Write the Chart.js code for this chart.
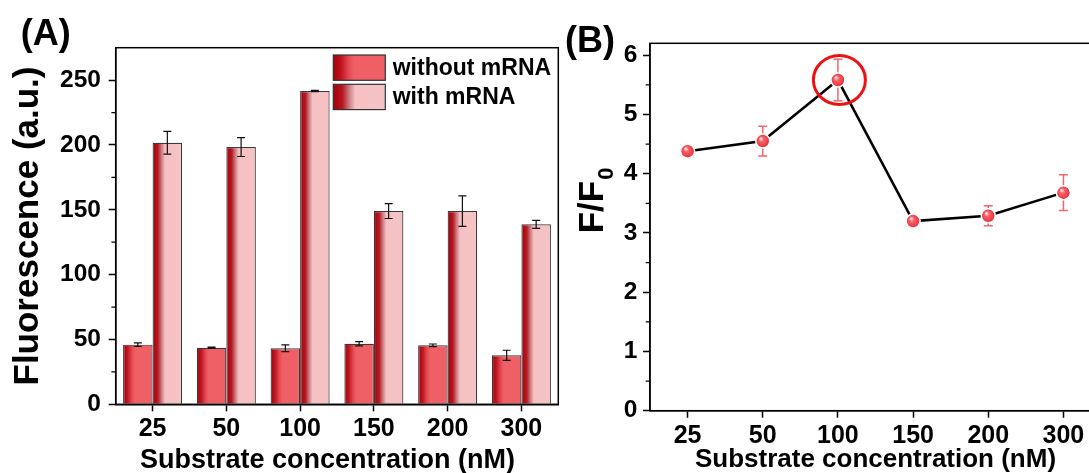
<!DOCTYPE html>
<html>
<head>
<meta charset="utf-8">
<title>Fluorescence vs substrate concentration</title>
<script src="https://cdn.jsdelivr.net/npm/chart.js@4.4.1/dist/chart.umd.min.js"></script>
<style>
    html, body { margin: 0; padding: 0; background: #fff; overflow: hidden; }
    body { width: 1089px; height: 473px; position: relative; }
    #bar_chart_container { position: absolute; left: 0; top: 0; }
    #line_chart_container { position: absolute; left: 560px; top: 0; }
</style>
</head>
<body>
<div id="bar_chart_container"><canvas id="bar-chart" width="570" height="473"></canvas></div>
<div id="line_chart_container"><canvas id="line-chart" width="560" height="473"></canvas></div>
<script>
// Substrate concentration (nM)
const concentrations = ['25', '50', '100', '150', '200', '300'];

// (A) Fluorescence (a.u.)
const withoutMrna = [46.0, 43.6, 43.2, 46.7, 45.5, 37.8];
const withoutMrnaErr = [1.3, 0.5, 2.6, 1.7, 1.0, 3.9];
const withMrna = [201.7, 198.4, 241.6, 149.0, 149.0, 138.8];
const withMrnaErr = [8.7, 7.3, 0.5, 5.7, 11.8, 3.1];
const barTicks = [0, 50, 100, 150, 200, 250];
const barMinorTicks = [25, 75, 125, 175, 225];

// (B) F/F0
const ratio = [4.38, 4.55, 5.58, 3.20, 3.29, 3.68];
const ratioErr = [0.04, 0.25, 0.35, 0.02, 0.17, 0.30];
const ratioTicks = [0, 1, 2, 3, 4, 5, 6];
const ratioMinorTicks = [0.5, 1.5, 2.5, 3.5, 4.5, 5.5];
const highlightIndex = 2;

const FONT = '"Liberation Sans", Arial, Helvetica, sans-serif';
const X_TITLE = 'Substrate concentration (nM)';

// gradient stops for the bars (left -> right)
const withoutStops = [[0, '#a3000b'], [0.15, '#bf1520'], [0.3, '#e44a52'], [0.4, '#ef5f66'], [1, '#ef5f66']];
const withStops = [[0, '#a3000b'], [0.18, '#b81822'], [0.3, '#c97a7e'], [0.42, '#f5c1c3'], [1, '#f6c3c5']];

Chart.defaults.font.family = FONT;
Chart.defaults.color = '#000';

function makeGradient(ctx, left, width, stops) {
    const g = ctx.createLinearGradient(left, 0, left + width, 0);
    stops.forEach(s => g.addColorStop(s[0], s[1]));
    return g;
}

// bar fill: horizontal gradient over each bar, position taken from the x scale
function barFill(stops) {
    return function (context) {
        const chart = context.chart;
        const xs = chart.scales.x;
        const flat = stops[stops.length - 1][1];
        if (context.type !== 'data' || !xs) return flat;
        const barW = xs.width / concentrations.length * 0.8 / 2;
        const center = xs.getPixelForValue(context.dataIndex);
        const left = context.datasetIndex === 0 ? center - barW : center;
        if (!isFinite(left) || !isFinite(barW) || barW <= 0) return flat;
        return makeGradient(chart.ctx, left, barW, stops);
    };
}

// red sphere marker
function sphereFill(context) {
    const flat = '#f0434b';
    if (context.type !== 'data') return flat;
    const chart = context.chart;
    if (!chart.scales.x || !chart.scales.y) return flat;
    const x = chart.scales.x.getPixelForValue(context.dataIndex);
    const y = chart.scales.y.getPixelForValue(context.parsed.y);
    if (!isFinite(x) || !isFinite(y)) return flat;
    const g = chart.ctx.createRadialGradient(x - 2, y - 2.5, 0.5, x, y, 7);
    g.addColorStop(0, '#ffe8e8');
    g.addColorStop(0.3, '#f8646b');
    g.addColorStop(0.8, '#ee3a43');
    g.addColorStop(1, '#d9262f');
    return g;
}

function drawErrorBars(chart, opts) {
    const ctx = chart.ctx;
    const ys = chart.scales.y;
    ctx.save();
    ctx.strokeStyle = opts.color;
    ctx.lineWidth = opts.width;
    chart.data.datasets.forEach((ds, i) => {
        const meta = chart.getDatasetMeta(i);
        meta.data.forEach((el, j) => {
            const v = ds.data[j];
            const top = ys.getPixelForValue(v + ds.errors[j]);
            const bot = ys.getPixelForValue(v - ds.errors[j]);
            ctx.beginPath();
            ctx.moveTo(el.x, top);
            ctx.lineTo(el.x, bot);
            ctx.moveTo(el.x - opts.cap, top);
            ctx.lineTo(el.x + opts.cap, top);
            ctx.moveTo(el.x - opts.cap, bot);
            ctx.lineTo(el.x + opts.cap, bot);
            ctx.stroke();
        });
    });
    ctx.restore();
}

const errorBarPlugin = {
    id: 'errorBars',
    beforeDatasetsDraw(chart, args, opts) {
        if (!opts.front) drawErrorBars(chart, opts);
    },
    afterDatasetsDraw(chart, args, opts) {
        if (opts.front) drawErrorBars(chart, opts);
    }
};

// box round the plot, minor ticks, panel label (and x title when it sits off centre)
const framePlugin = {
    id: 'frame',
    afterDraw(chart, args, opts) {
        const ctx = chart.ctx;
        const a = chart.chartArea;
        const ys = chart.scales.y;
        ctx.save();
        ctx.strokeStyle = '#000';
        ctx.lineWidth = 1.5;
        ctx.strokeRect(a.left, a.top, a.right - a.left, a.bottom - a.top);

        ctx.lineWidth = 1.3;
        ctx.beginPath();
        opts.minor.forEach(v => {
            const py = ys.getPixelForValue(v);
            ctx.moveTo(a.left - 4.3, py);
            ctx.lineTo(a.left, py);
        });
        ctx.stroke();

        ctx.fillStyle = '#000';
        ctx.font = 'bold 36px ' + FONT;
        ctx.textBaseline = 'alphabetic';
        ctx.textAlign = 'left';
        ctx.fillText(opts.label, opts.labelX, opts.labelY);

        if (opts.xTitle) {
            ctx.font = 'bold ' + opts.xTitle.size + 'px ' + FONT;
            ctx.textAlign = 'center';
            ctx.textBaseline = 'middle';
            ctx.fillText(opts.xTitle.text, (a.left + a.right) / 2 + opts.xTitle.shift, opts.xTitle.y);
        }
        ctx.restore();
    }
};

// legend with gradient swatches, inside the top right of the plot
const boxLegendPlugin = {
    id: 'boxLegend',
    afterDraw(chart, args, opts) {
        const ctx = chart.ctx;
        const a = chart.chartArea;
        const x = a.right - opts.fromRight;
        ctx.save();
        ctx.font = 'bold 23px ' + FONT;
        ctx.textBaseline = 'middle';
        ctx.textAlign = 'left';
        chart.data.datasets.forEach((ds, i) => {
            const top = a.top + opts.top + i * opts.row;
            ctx.fillStyle = makeGradient(ctx, x, opts.boxW, ds.stops);
            ctx.fillRect(x, top, opts.boxW, opts.boxH);
            ctx.strokeStyle = '#333';
            ctx.lineWidth = 1.2;
            ctx.strokeRect(x, top, opts.boxW, opts.boxH);
            ctx.fillStyle = '#000';
            ctx.fillText(ds.label, x + opts.boxW + 7.4, top + opts.boxH / 2 + 1);
        });
        ctx.restore();
    }
};

// red ring round the best point and the F/F0 title
const highlightPlugin = {
    id: 'highlight',
    afterDatasetsDraw(chart) {
        const ctx = chart.ctx;
        const el = chart.getDatasetMeta(0).data[highlightIndex];
        ctx.save();
        ctx.strokeStyle = '#ee1111';
        ctx.lineWidth = 3;
        ctx.beginPath();
        ctx.ellipse(el.x + 1.5, el.y, 26, 24.5, 0, 0, Math.PI * 2);
        ctx.stroke();
        ctx.restore();
    },
    afterDraw(chart) {
        const ctx = chart.ctx;
        const a = chart.chartArea;
        ctx.save();
        ctx.translate(a.left - 46.7, 233.3);
        ctx.rotate(-Math.PI / 2);
        ctx.fillStyle = '#000';
        ctx.textBaseline = 'alphabetic';
        ctx.textAlign = 'left';
        ctx.font = 'bold 35px ' + FONT;
        ctx.fillText('F/F', 0, 0);
        const w = ctx.measureText('F/F').width;
        ctx.font = 'bold 22px ' + FONT;
        ctx.fillText('0', w + 1, 10);
        ctx.restore();
    }
};

const tickGrid = {
    drawOnChartArea: false,
    offset: false,
    tickLength: 7,
    tickWidth: 1.5,
    tickColor: '#000'
};
const axisBorder = { color: '#000', width: 1.5 };

var ctxBar = document.getElementById('bar-chart');
var ctxLine = document.getElementById('line-chart');

var barChart = new Chart(ctxBar, {
    type: 'bar',
    data: {
        labels: concentrations,
        datasets: [{
            label: 'without mRNA',
            data: withoutMrna,
            errors: withoutMrnaErr,
            stops: withoutStops,
            backgroundColor: barFill(withoutStops),
            borderColor: '#3a3a3a',
            borderWidth: 1.2,
            categoryPercentage: 0.8,
            barPercentage: 1.0
        }, {
            label: 'with mRNA',
            data: withMrna,
            errors: withMrnaErr,
            stops: withStops,
            backgroundColor: barFill(withStops),
            borderColor: '#3a3a3a',
            borderWidth: 1.2,
            categoryPercentage: 0.8,
            barPercentage: 1.0
        }]
    },
    plugins: [errorBarPlugin, framePlugin, boxLegendPlugin],
    options: {
        responsive: false,
        animation: false,
        events: [],
        layout: { padding: { top: 47.7, right: 11.7, left: 0, bottom: 0 } },
        plugins: {
            legend: { display: false },
            tooltip: { enabled: false },
            errorBars: { front: true, color: '#111', width: 1.2, cap: 4 },
            frame: {
                minor: barMinorTicks, label: '(A)', labelX: 20.7, labelY: 44.5,
                xTitle: { text: X_TITLE, size: 27, shift: -9.5, y: 460.3 }
            },
            boxLegend: { fromRight: 225, top: 7.3, row: 29.3, boxW: 52, boxH: 25.3 }
        },
        scales: {
            x: {
                offset: true,
                grid: tickGrid,
                border: axisBorder,
                ticks: { font: { size: 25, weight: 'bold' }, padding: 3, color: '#000', maxRotation: 0, autoSkip: false },
                afterFit: s => { s.height = 68.7; }
            },
            y: {
                min: 0,
                max: 275,
                grid: tickGrid,
                border: axisBorder,
                afterBuildTicks: s => { s.ticks = barTicks.map(v => ({ value: v })); },
                ticks: { font: { size: 24.5, weight: 'bold' }, padding: 7.7, color: '#000' },
                title: {
                    display: true,
                    text: 'Fluorescence (a.u.)',
                    font: { size: 35, weight: 'bold', lineHeight: 1.2 },
                    padding: { top: 7.7, bottom: 0 },
                    color: '#000'
                },
                afterFit: s => { s.width = 115.7; }
            }
        }
    }
});

var lineChart = new Chart(ctxLine, {
    type: 'line',
    data: {
        labels: concentrations,
        datasets: [{
            label: 'F/F0',
            data: ratio,
            errors: ratioErr,
            borderColor: '#000',
            borderWidth: 2.5,
            tension: 0,
            pointRadius: 7,
            pointBorderColor: '#fff',
            pointBorderWidth: 1.5,
            pointBackgroundColor: sphereFill,
            clip: false
        }]
    },
    plugins: [errorBarPlugin, framePlugin, highlightPlugin],
    options: {
        responsive: false,
        animation: false,
        events: [],
        layout: { padding: { top: 43.3, right: 19, left: 0, bottom: 0 } },
        plugins: {
            legend: { display: false },
            tooltip: { enabled: false },
            errorBars: { front: false, color: '#f2666d', width: 1.5, cap: 4.5 },
            frame: { minor: ratioMinorTicks, label: '(B)', labelX: 5, labelY: 51.7 }
        },
        scales: {
            x: {
                offset: true,
                grid: tickGrid,
                border: axisBorder,
                ticks: { font: { size: 25, weight: 'bold' }, padding: 3, color: '#000', maxRotation: 0, autoSkip: false },
                title: {
                    display: true,
                    text: X_TITLE,
                    font: { size: 26, weight: 'bold', lineHeight: 1 },
                    padding: { top: 0, bottom: 0.5 },
                    color: '#000'
                },
                afterFit: s => { s.height = 62.3; }
            },
            y: {
                min: 0,
                max: 6.2,
                grid: tickGrid,
                border: axisBorder,
                afterBuildTicks: s => { s.ticks = ratioTicks.map(v => ({ value: v })); },
                ticks: { font: { size: 24.5, weight: 'bold' }, padding: 5.7, color: '#000' },
                afterFit: s => { s.width = 90; }
            }
        }
    }
});
</script>
</body>
</html>
